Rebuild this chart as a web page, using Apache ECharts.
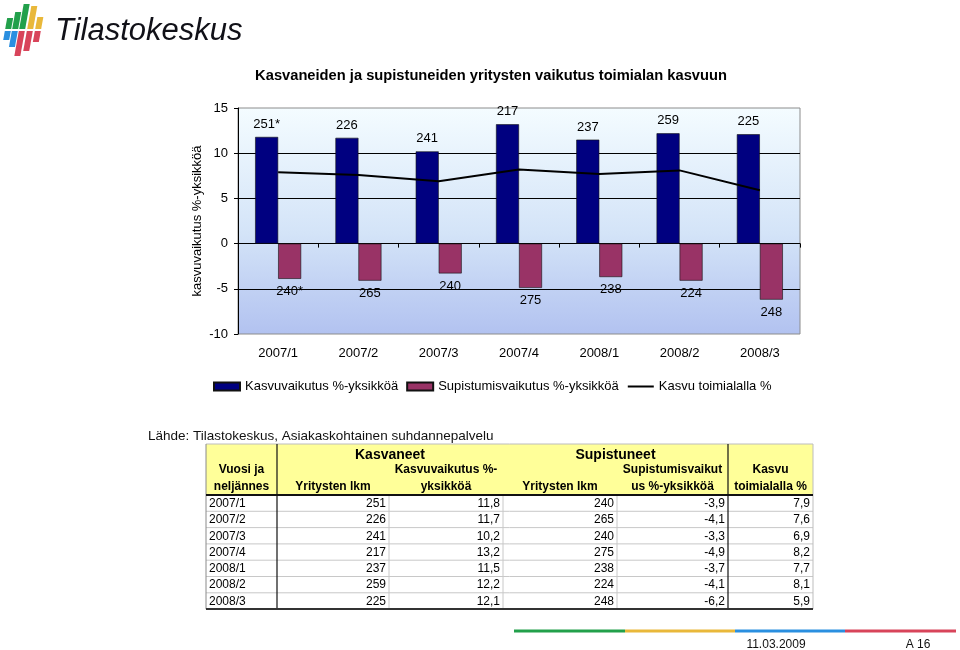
<!DOCTYPE html>
<html>
<head>
<meta charset="utf-8">
<title>Kasvaneiden ja supistuneiden yritysten vaikutus toimialan kasvuun</title>
<script src="https://cdn.jsdelivr.net/npm/echarts@6/dist/echarts.min.js"></script>
<style>
html, body { margin: 0; padding: 0; background: #fff; }
#chart { width: 960px; height: 650px; }
</style>
</head>
<body>
<div id="chart"></div>
<script>
// vuosi ja neljännes
const quarters = ["2007/1", "2007/2", "2007/3", "2007/4", "2008/1", "2008/2", "2008/3"];
// kasvaneet: yritysten lkm ja kasvuvaikutus %-yksikköä
const grownFirms = [251, 226, 241, 217, 237, 259, 225];
const grownEffect = [11.8, 11.7, 10.2, 13.2, 11.5, 12.2, 12.1];
// supistuneet: yritysten lkm ja supistumisvaikutus %-yksikköä
const shrunkFirms = [240, 265, 240, 275, 238, 224, 248];
const shrunkEffect = [-3.9, -4.1, -3.3, -4.9, -3.7, -4.1, -6.2];
// kasvu toimialalla %
const industryGrowth = [7.9, 7.6, 6.9, 8.2, 7.7, 8.1, 5.9];
// pylväiden tekstit (ensimmäisessä tähti)
const grownLabels = ["251*", "226", "241", "217", "237", "259", "225"];
const shrunkLabels = ["240*", "265", "240", "275", "238", "224", "248"];

const FONT = "Liberation Sans, Arial, sans-serif";
const fmt = (v) => v.toFixed(1).replace(".", ",");

// taulukon rakennus graphic-elementeillä
function buildTable() {
    const cols = [206, 277, 389, 503, 617, 728, 813];
    const top = 444;
    const headBottom = 495;
    const rowH = 16.3;
    const bottom = headBottom + rowH * quarters.length;
    const els = [];
    // keltainen otsikko
    els.push({ type: "rect", shape: { x: cols[0], y: top, width: cols[6] - cols[0], height: headBottom - top }, style: { fill: "#ffff99" } });
    // vaaleat rivien viivat
    for (let i = 1; i < quarters.length; i++) {
        const y = headBottom + rowH * i;
        els.push({ type: "line", shape: { x1: cols[0], y1: y, x2: cols[6], y2: y }, style: { stroke: "#c8c8c8", lineWidth: 1 } });
    }
    // vaaleat sarakeviivat datassa
    [2, 3, 4].forEach((c) => {
        els.push({ type: "line", shape: { x1: cols[c], y1: headBottom, x2: cols[c], y2: bottom }, style: { stroke: "#c8c8c8", lineWidth: 1 } });
    });
    // reunat
    els.push({ type: "line", shape: { x1: cols[0], y1: top, x2: cols[6], y2: top }, style: { stroke: "#bdbdbd", lineWidth: 1 } });
    els.push({ type: "line", shape: { x1: cols[6], y1: top, x2: cols[6], y2: bottom }, style: { stroke: "#bdbdbd", lineWidth: 1 } });
    els.push({ type: "line", shape: { x1: cols[0], y1: top, x2: cols[0], y2: bottom }, style: { stroke: "#8a8a8a", lineWidth: 1 } });
    [1, 5].forEach((c) => {
        els.push({ type: "line", shape: { x1: cols[c], y1: top, x2: cols[c], y2: bottom }, style: { stroke: "#111", lineWidth: 1.2 } });
    });
    els.push({ type: "line", shape: { x1: cols[0], y1: headBottom, x2: cols[6], y2: headBottom }, style: { stroke: "#111", lineWidth: 2 } });
    els.push({ type: "line", shape: { x1: cols[0], y1: bottom, x2: cols[6], y2: bottom }, style: { stroke: "#333", lineWidth: 2 } });

    const txt = (x, y, s, align, bold, size) => ({
        type: "text",
        x: x, y: y,
        style: { text: s, fill: "#000", font: (bold ? "bold " : "") + (size || 12) + "px " + FONT, textAlign: align, textVerticalAlign: "middle" }
    });
    const mid = (a, b) => (cols[a] + cols[b]) / 2;
    // otsikot
    els.push(txt(mid(1, 3), 455, "Kasvaneet", "center", true, 14));
    els.push(txt(mid(3, 5), 455, "Supistuneet", "center", true, 14));
    els.push(txt(mid(0, 1), 470, "Vuosi ja", "center", true));
    els.push(txt(mid(0, 1), 487, "neljännes", "center", true));
    els.push(txt(mid(1, 2), 487, "Yritysten lkm", "center", true));
    els.push(txt(mid(2, 3), 470, "Kasvuvaikutus %-", "center", true));
    els.push(txt(mid(2, 3), 487, "yksikköä", "center", true));
    els.push(txt(mid(3, 4), 487, "Yritysten lkm", "center", true));
    els.push(txt(mid(4, 5), 470, "Supistumisvaikut", "center", true));
    els.push(txt(mid(4, 5), 487, "us %-yksikköä", "center", true));
    els.push(txt(mid(5, 6), 470, "Kasvu", "center", true));
    els.push(txt(mid(5, 6), 487, "toimialalla %", "center", true));
    // datarivit
    quarters.forEach((q, i) => {
        const y = headBottom + rowH * i + rowH / 2 + 0.5;
        els.push(txt(cols[0] + 3, y, q, "left"));
        els.push(txt(cols[2] - 3, y, String(grownFirms[i]), "right"));
        els.push(txt(cols[3] - 3, y, fmt(grownEffect[i]), "right"));
        els.push(txt(cols[4] - 3, y, String(shrunkFirms[i]), "right"));
        els.push(txt(cols[5] - 3, y, fmt(shrunkEffect[i]), "right"));
        els.push(txt(cols[6] - 3, y, fmt(industryGrowth[i]), "right"));
    });
    return els;
}

// logo ja alapalkki
function buildDecor() {
    const els = [];
    const green = "#22a04b", yellow = "#e9b83a", blue = "#2a8fe0", red = "#d8445a";
    const stripX = [5, 12, 19, 27, 35];
    const tops = [18, 12, 4, 6, 17];
    const ends = [40, 47, 56, 51, 42];
    const topCol = [green, green, green, yellow, yellow];
    const botCol = [blue, blue, red, red, red];
    const slant = 0.18, w = 6, midY = 30;
    stripX.forEach((x, i) => {
        const px = (y) => x + (midY - y) * slant;
        els.push({ type: "polygon", shape: { points: [[px(tops[i]), tops[i]], [px(tops[i]) + w, tops[i]], [px(midY - 1) + w, midY - 1], [px(midY - 1), midY - 1]] }, style: { fill: topCol[i] } });
        els.push({ type: "polygon", shape: { points: [[px(midY + 1), midY + 1], [px(midY + 1) + w, midY + 1], [px(ends[i]) + w, ends[i]], [px(ends[i]), ends[i]]] }, style: { fill: botCol[i] } });
    });
    els.push({ type: "text", x: 55, y: 31, style: { text: "Tilastokeskus", fill: "#111118", font: "italic 31px " + FONT, textVerticalAlign: "middle" } });
    // värillinen viiva
    const segX = [514, 625, 735, 845, 956];
    [green, yellow, blue, red].forEach((c, i) => {
        els.push({ type: "rect", shape: { x: segX[i], y: 629.5, width: segX[i + 1] - segX[i], height: 3 }, style: { fill: c } });
    });
    els.push({ type: "text", x: 776, y: 645, style: { text: "11.03.2009", fill: "#111", font: "12px " + FONT, textAlign: "center", textVerticalAlign: "middle" } });
    els.push({ type: "text", x: 918, y: 645, style: { text: "A 16", fill: "#111", font: "12px " + FONT, textAlign: "center", textVerticalAlign: "middle" } });
    els.push({ type: "text", x: 148, y: 436, style: { text: "Lähde: Tilastokeskus, Asiakaskohtainen suhdannepalvelu", fill: "#111", font: "13.5px " + FONT, textVerticalAlign: "middle" } });
    return els;
}

const chart = echarts.init(document.getElementById("chart"));
chart.setOption({
    backgroundColor: "#fff",
    animation: false,
    textStyle: { fontFamily: FONT },
    title: {
        text: "Kasvaneiden ja supistuneiden yritysten vaikutus toimialan kasvuun",
        left: 491,
        textAlign: "center",
        top: 68,
        padding: 0,
        textStyle: { fontSize: 14.7, fontWeight: "bold", color: "#000", fontFamily: FONT }
    },
    legend: {
        left: 213,
        top: 380,
        padding: 0,
        itemWidth: 26,
        itemHeight: 8,
        itemGap: 8,
        textStyle: { fontSize: 13, color: "#000" },
        data: [
            { name: "Kasvuvaikutus %-yksikköä", icon: "rect" },
            { name: "Supistumisvaikutus %-yksikköä", icon: "rect" },
            { name: "Kasvu toimialalla %", itemStyle: { color: "rgba(0,0,0,0)", borderWidth: 0, opacity: 0 } }
        ]
    },
    grid: {
        left: 238,
        right: 160,
        top: 108,
        bottom: 316,
        show: true,
        borderColor: "#8c8c8c",
        borderWidth: 1,
        backgroundColor: new echarts.graphic.LinearGradient(0, 0, 0, 1, [
            { offset: 0, color: "#f4fcff" },
            { offset: 0.55, color: "#d4e4f8" },
            { offset: 1, color: "#b2c2f0" }
        ]),
        outerBoundsMode: "none"
    },
    xAxis: [
        {
            type: "category",
            data: quarters,
            position: "bottom",
            axisLine: { show: false, onZero: false },
            axisTick: { show: false },
            axisLabel: { fontSize: 13, color: "#000", margin: 13 }
        },
        {
            type: "category",
            data: quarters,
            position: "bottom",
            axisLine: { show: true, onZero: true, lineStyle: { color: "#000", width: 1 } },
            axisTick: { show: true, length: 4, lineStyle: { color: "#000" } },
            axisLabel: { show: false }
        }
    ],
    yAxis: {
        type: "value",
        min: -10,
        max: 15,
        interval: 5,
        name: "kasvuvaikutus %-yksikköä",
        nameLocation: "middle",
        nameGap: 34,
        nameMoveOverlap: false,
        nameTextStyle: { fontSize: 13, color: "#000" },
        axisLine: { show: true, lineStyle: { color: "#000" } },
        axisTick: { show: true, length: 4, lineStyle: { color: "#000" } },
        axisLabel: { fontSize: 13, color: "#000", margin: 10 },
        splitLine: { show: true, showMinLine: false, showMaxLine: false, lineStyle: { color: "#000", width: 1 } }
    },
    series: [
        {
            name: "Kasvuvaikutus %-yksikköä",
            type: "bar",
            data: grownEffect,
            barWidth: 23,
            barGap: "0%",
            itemStyle: { color: "#000080", borderColor: "#111", borderWidth: 0.6 },
            label: {
                show: true,
                position: "top",
                distance: 6,
                fontSize: 13,
                color: "#000",
                formatter: (p) => grownLabels[p.dataIndex]
            }
        },
        {
            name: "Supistumisvaikutus %-yksikköä",
            type: "bar",
            data: shrunkEffect,
            barWidth: 23,
            barGap: "0%",
            itemStyle: { color: "#993366", borderColor: "#111", borderWidth: 0.6 },
            label: {
                show: true,
                position: "bottom",
                distance: 6,
                fontSize: 13,
                color: "#000",
                formatter: (p) => shrunkLabels[p.dataIndex]
            }
        },
        {
            name: "Kasvu toimialalla %",
            type: "line",
            data: industryGrowth,
            symbol: "none",
            lineStyle: { color: "#000", width: 2 },
            itemStyle: { color: "#000" },
            z: 5
        }
    ],
    graphic: buildDecor().concat(buildTable())
});
</script>
</body>
</html>
